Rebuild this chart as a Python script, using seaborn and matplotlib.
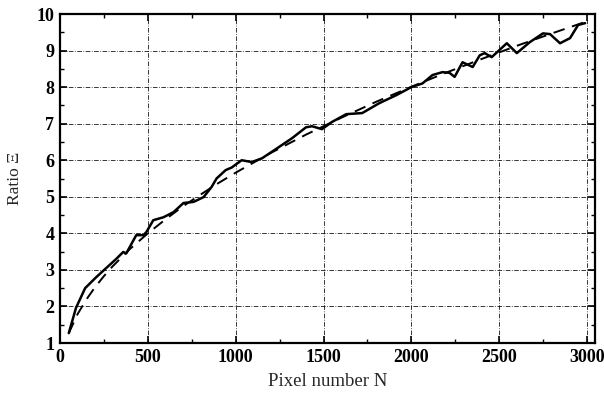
import matplotlib
matplotlib.use("Agg")
import matplotlib.pyplot as plt
import seaborn as sns
import pandas as pd
from matplotlib.ticker import MultipleLocator

# Measured ratio versus pixel number
measured_n = [50, 91, 143, 206, 263, 320, 360, 377, 434, 474, 491, 531, 589, 646, 703,
              760, 817, 863, 891, 943, 977, 1034, 1091, 1149, 1246, 1320, 1400, 1434,
              1491, 1549, 1629, 1720, 1749, 1817, 1914, 2000, 2063, 2120, 2177, 2217,
              2246, 2291, 2349, 2389, 2417, 2457, 2543, 2600, 2674, 2749, 2789, 2846,
              2903, 2949, 2989]
measured_ratio = [1.27, 1.96, 2.50, 2.80, 3.05, 3.30, 3.49, 3.45, 3.95, 3.95, 4.03, 4.36,
                  4.44, 4.58, 4.83, 4.86, 4.99, 5.27, 5.50, 5.73, 5.80, 6.00, 5.95, 6.05,
                  6.36, 6.60, 6.90, 6.93, 6.85, 7.05, 7.26, 7.29, 7.37, 7.56, 7.78, 8.00,
                  8.10, 8.33, 8.41, 8.39, 8.28, 8.68, 8.55, 8.87, 8.93, 8.82, 9.20, 8.93,
                  9.23, 9.47, 9.45, 9.20, 9.34, 9.70, 9.75]

# Model curve
model_n = [50, 100, 150, 200, 250, 300, 400, 500, 600, 700, 800, 900, 1000, 1200, 1400,
           1600, 1800, 2000, 2200, 2400, 2600, 2800, 3000]
model_ratio = [1.27, 1.79, 2.19, 2.53, 2.83, 3.10, 3.58, 4.00, 4.38, 4.74, 5.06, 5.37,
               5.66, 6.20, 6.70, 7.16, 7.60, 8.01, 8.40, 8.77, 9.13, 9.47, 9.80]

x_ticks = [0, 500, 1000, 1500, 2000, 2500, 3000]
y_ticks = [1, 2, 3, 4, 5, 6, 7, 8, 9, 10]

sns.set_theme(style="white")
plt.rcParams["font.family"] = ["Liberation Serif", "DejaVu Serif"]

df_meas = pd.DataFrame({"N": measured_n, "ratio": measured_ratio})
df_model = pd.DataFrame({"N": model_n, "ratio": model_ratio})

fig = plt.figure(figsize=(6.04, 3.98), dpi=100)
ax = fig.add_axes([60 / 604, 1 - 343 / 398, 535 / 604, 329 / 398])

sns.lineplot(data=df_meas, x="N", y="ratio", ax=ax, color="black", lw=1.8,
             estimator=None, sort=False)
sns.lineplot(data=df_model, x="N", y="ratio", ax=ax, color="black", lw=1.4,
             estimator=None, sort=False, dashes=False, linestyle=(0, (6, 4)))

ax.set_xlim(0, 3045)
ax.set_ylim(1, 10)
ax.set_xticks(x_ticks)
ax.set_yticks(y_ticks)
ax.xaxis.set_minor_locator(MultipleLocator(250))
ax.yaxis.set_minor_locator(MultipleLocator(0.5))

ax.grid(True, which="major", color="black", linestyle=(0, (6, 2, 1, 2)), lw=0.55)
ax.tick_params(which="both", direction="in", top=True, right=True, bottom=True, left=True,
               colors="black")
ax.tick_params(which="major", length=5, width=1.2, labelsize=13, pad=4)
ax.tick_params(which="minor", length=3, width=1.0)
for lbl in ax.get_xticklabels() + ax.get_yticklabels():
    lbl.set_fontweight("bold")

for sp in ax.spines.values():
    sp.set_visible(True)
    sp.set_color("black")
    sp.set_linewidth(1.6)

ax.set_xlabel("Pixel number N", fontsize=13.5, labelpad=5)
ax.set_ylabel("Ratio Ξ", fontsize=12.5, labelpad=10)

fig.savefig("out.png", dpi=100)
